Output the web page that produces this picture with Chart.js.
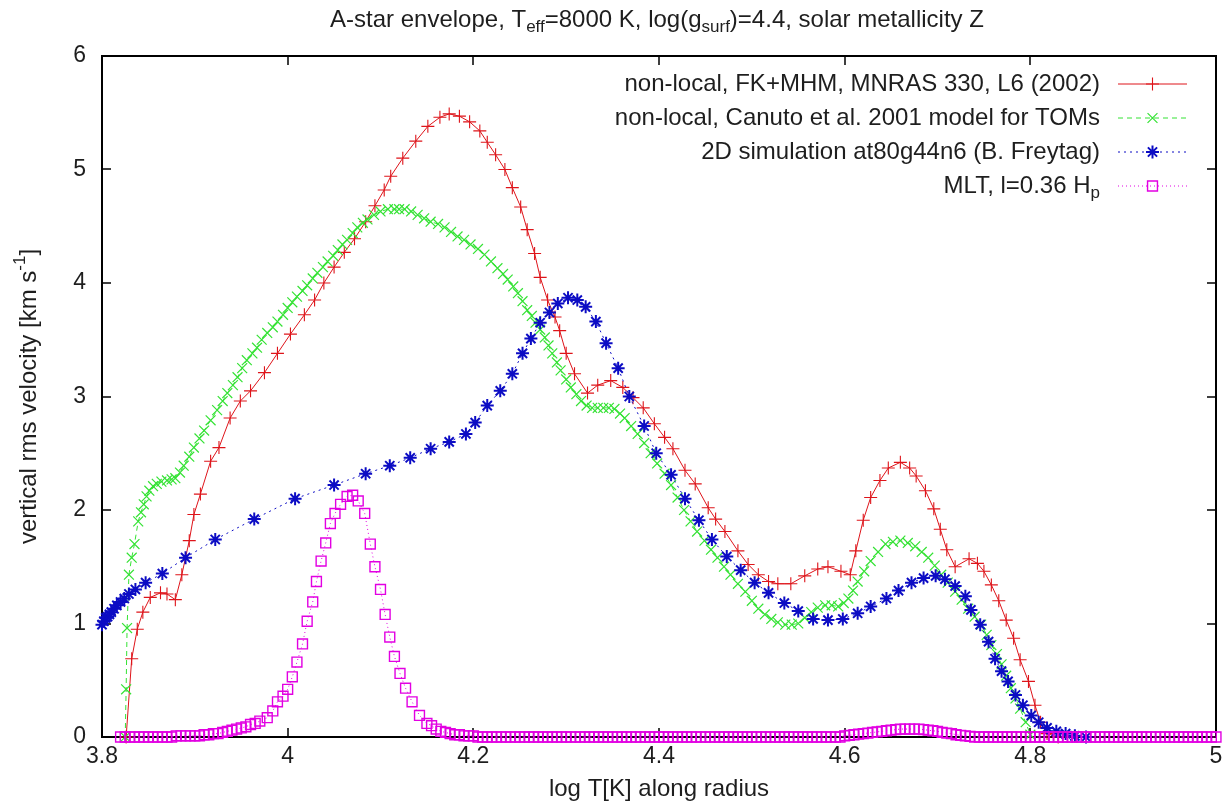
<!DOCTYPE html>
<html>
<head>
<meta charset="utf-8">
<title>A-star envelope velocities</title>
<script src="https://cdn.jsdelivr.net/npm/chart.js@4.4.1/dist/chart.umd.min.js"></script>
<style>
  html, body { margin: 0; padding: 0; background: #fff; }
  #wrap { position: relative; width: 1232px; height: 807px; }
</style>
</head>
<body>
<div id="wrap"><canvas id="velChart" width="1232" height="807"></canvas></div>
<script>
// axis ticks
const xTicks = [3.8, 4, 4.2, 4.4, 4.6, 4.8, 5];
const yTicks = [0, 1, 2, 3, 4, 5, 6];

// labels, _{..} is a subscript, ^{..} a superscript
const titleText = 'A-star envelope, T_{eff}=8000 K, log(g_{surf})=4.4, solar metallicity Z';
const xTitle = 'log T[K] along radius';
const yTitle = 'vertical rms velocity [km s^{-1}]';
const seriesNames = [
  'non-local, FK+MHM, MNRAS 330, L6 (2002)',
  'non-local, Canuto et al. 2001 model for TOMs',
  '2D simulation at80g44n6 (B. Freytag)',
  'MLT, l=0.36 H_{p}'
];

// non-local model FK+MHM
const fkT = [3.826, 3.832, 3.838, 3.844, 3.852, 3.863, 3.870, 3.879, 3.886, 3.894, 3.899, 3.906, 3.917, 3.926,
  3.938, 3.949, 3.960, 3.975, 3.989, 4.003, 4.018, 4.029, 4.039, 4.050, 4.061, 4.072, 4.084, 4.094, 4.104,
  4.111, 4.124, 4.138, 4.151, 4.164, 4.174, 4.185, 4.196, 4.207, 4.215, 4.224, 4.234, 4.242, 4.251, 4.258,
  4.266, 4.272, 4.280, 4.288, 4.293, 4.300, 4.309, 4.323, 4.334, 4.348, 4.361, 4.372, 4.383, 4.395, 4.406,
  4.415, 4.428, 4.439, 4.453, 4.461, 4.471, 4.485, 4.496, 4.507, 4.518, 4.528, 4.542, 4.557, 4.571, 4.582,
  4.596, 4.606, 4.612, 4.620, 4.628, 4.638, 4.647, 4.660, 4.670, 4.677, 4.687, 4.696, 4.703, 4.710, 4.719,
  4.734, 4.743, 4.750, 4.758, 4.766, 4.774, 4.782, 4.789, 4.798, 4.805, 4.811, 4.818, 4.830];
const fkV = [0.00, 0.69, 0.95, 1.10, 1.23, 1.27, 1.26, 1.21, 1.43, 1.73, 1.96, 2.14, 2.43, 2.55,
  2.81, 2.96, 3.05, 3.21, 3.38, 3.55, 3.72, 3.85, 4.00, 4.14, 4.27, 4.39, 4.54, 4.68, 4.82,
  4.94, 5.10, 5.25, 5.38, 5.46, 5.49, 5.47, 5.42, 5.34, 5.24, 5.13, 5.00, 4.84, 4.67, 4.47,
  4.26, 4.05, 3.85, 3.70, 3.58, 3.38, 3.20, 3.03, 3.10, 3.14, 3.08, 2.99, 2.90, 2.76, 2.64,
  2.54, 2.35, 2.23, 2.02, 1.92, 1.81, 1.64, 1.52, 1.43, 1.37, 1.35, 1.35, 1.42, 1.48, 1.50,
  1.46, 1.43, 1.64, 1.91, 2.11, 2.26, 2.37, 2.42, 2.37, 2.30, 2.17, 2.01, 1.83, 1.65, 1.50,
  1.57, 1.53, 1.46, 1.34, 1.20, 1.03, 0.87, 0.68, 0.49, 0.28, 0.13, 0.03, 0.00];

// non-local model, Canuto et al. 2001
const tomT = [3.825, 3.826, 3.827, 3.829, 3.832, 3.835, 3.839, 3.842, 3.845, 3.848, 3.851, 3.855, 3.859,
  3.864, 3.870, 3.875, 3.879, 3.884, 3.888, 3.894, 3.899, 3.905, 3.910, 3.917, 3.924, 3.930, 3.935, 3.941,
  3.946, 3.951, 3.956, 3.962, 3.967, 3.972, 3.978, 3.984, 3.989, 3.995, 4.000, 4.005, 4.010, 4.016, 4.021,
  4.027, 4.032, 4.038, 4.043, 4.049, 4.054, 4.059, 4.064, 4.070, 4.075, 4.081, 4.086, 4.093, 4.100, 4.108,
  4.115, 4.120, 4.126, 4.133, 4.140, 4.147, 4.154, 4.162, 4.169, 4.176, 4.183, 4.190, 4.197, 4.205, 4.212,
  4.219, 4.226, 4.232, 4.237, 4.243, 4.248, 4.253, 4.258, 4.263, 4.267, 4.272, 4.277, 4.281, 4.285, 4.290,
  4.294, 4.300, 4.305, 4.311, 4.316, 4.322, 4.328, 4.334, 4.340, 4.346, 4.352, 4.358, 4.363, 4.370, 4.377,
  4.384, 4.391, 4.398, 4.406, 4.413, 4.420, 4.427, 4.434, 4.441, 4.449, 4.456, 4.463, 4.470, 4.477, 4.485,
  4.493, 4.500, 4.507, 4.514, 4.521, 4.528, 4.536, 4.543, 4.550, 4.557, 4.564, 4.571, 4.579, 4.586, 4.593,
  4.599, 4.604, 4.609, 4.614, 4.621, 4.628, 4.636, 4.644, 4.652, 4.660, 4.668, 4.676, 4.683, 4.690, 4.697,
  4.704, 4.711, 4.719, 4.726, 4.733, 4.740, 4.747, 4.753, 4.758, 4.764, 4.769, 4.774, 4.779, 4.784, 4.789,
  4.795, 4.800];
const tomV = [0.00, 0.42, 0.96, 1.43, 1.58, 1.70, 1.90, 1.98, 2.05, 2.12, 2.17, 2.21, 2.23,
  2.25, 2.26, 2.27, 2.28, 2.33, 2.39, 2.47, 2.55, 2.63, 2.70, 2.79, 2.88, 2.96, 3.03, 3.10,
  3.17, 3.25, 3.32, 3.38, 3.43, 3.50, 3.56, 3.61, 3.66, 3.72, 3.78, 3.83, 3.88, 3.93, 3.98,
  4.04, 4.09, 4.14, 4.19, 4.24, 4.29, 4.34, 4.38, 4.44, 4.49, 4.53, 4.56, 4.60, 4.63, 4.65,
  4.65, 4.65, 4.65, 4.63, 4.60, 4.57, 4.54, 4.52, 4.49, 4.45, 4.41, 4.38, 4.34, 4.30, 4.25,
  4.19, 4.13, 4.08, 4.03, 3.97, 3.91, 3.84, 3.76, 3.71, 3.65, 3.59, 3.52, 3.45, 3.38, 3.30,
  3.23, 3.15, 3.08, 3.02, 2.96, 2.92, 2.90, 2.90, 2.90, 2.90, 2.89, 2.85, 2.81, 2.74, 2.67,
  2.59, 2.50, 2.41, 2.32, 2.22, 2.11, 2.00, 1.90, 1.81, 1.73, 1.65, 1.58, 1.50, 1.43, 1.35,
  1.28, 1.20, 1.13, 1.08, 1.04, 1.01, 0.99, 0.99, 1.00, 1.05, 1.10, 1.14, 1.16, 1.16, 1.15,
  1.18, 1.22, 1.29, 1.37, 1.46, 1.55, 1.63, 1.70, 1.72, 1.73, 1.71, 1.68, 1.63, 1.58, 1.51,
  1.43, 1.36, 1.28, 1.21, 1.13, 1.06, 0.99, 0.90, 0.81, 0.73, 0.64, 0.54, 0.43, 0.34, 0.25,
  0.13, 0.02];

// 2D simulation at80g44n6
const simT = [3.800, 3.802, 3.804, 3.806, 3.808, 3.810, 3.813, 3.816, 3.820, 3.824, 3.829, 3.836, 3.847,
  3.865, 3.890, 3.922, 3.964, 4.008, 4.050, 4.084, 4.110, 4.132, 4.154, 4.174, 4.192, 4.202, 4.215, 4.229,
  4.242, 4.253, 4.262, 4.272, 4.282, 4.291, 4.302, 4.312, 4.321, 4.332, 4.343, 4.356, 4.368, 4.384, 4.397,
  4.413, 4.428, 4.443, 4.457, 4.473, 4.488, 4.503, 4.518, 4.535, 4.550, 4.566, 4.582, 4.598, 4.614, 4.628,
  4.645, 4.658, 4.672, 4.685, 4.698, 4.708, 4.719, 4.730, 4.736, 4.746, 4.755, 4.762, 4.769, 4.776, 4.784,
  4.792, 4.801, 4.809, 4.818, 4.828, 4.838, 4.848, 4.860];
const simV = [0.99, 1.02, 1.05, 1.06, 1.08, 1.10, 1.13, 1.16, 1.19, 1.22, 1.26, 1.30, 1.36,
  1.44, 1.58, 1.74, 1.92, 2.10, 2.22, 2.32, 2.39, 2.46, 2.54, 2.60, 2.67, 2.77, 2.92, 3.05,
  3.20, 3.38, 3.51, 3.65, 3.74, 3.82, 3.87, 3.85, 3.79, 3.66, 3.47, 3.25, 3.00, 2.74, 2.50,
  2.31, 2.10, 1.91, 1.74, 1.59, 1.47, 1.36, 1.27, 1.18, 1.11, 1.04, 1.03, 1.04, 1.09, 1.15,
  1.22, 1.29, 1.36, 1.40, 1.42, 1.39, 1.33, 1.24, 1.12, 0.99, 0.84, 0.69, 0.58, 0.49, 0.37,
  0.28, 0.19, 0.13, 0.08, 0.05, 0.03, 0.01, 0.00];

// mixing length theory
const mltT = [3.820, 3.825, 3.830, 3.835, 3.840, 3.845, 3.850, 3.855, 3.860, 3.865, 3.870, 3.875,
  3.880, 3.885, 3.890, 3.895, 3.900, 3.905, 3.910, 3.915, 3.920, 3.925, 3.930, 3.935, 3.940, 3.945,
  3.950, 3.955, 3.960, 3.965, 3.970,
  3.978, 3.984, 3.989, 3.995, 4.000, 4.005, 4.010, 4.016, 4.021, 4.027, 4.031, 4.036, 4.041, 4.046,
  4.051, 4.057, 4.064, 4.070, 4.076, 4.083, 4.089, 4.094, 4.100, 4.105, 4.110, 4.115, 4.121, 4.127,
  4.134, 4.142, 4.150,
  4.155, 4.160, 4.165, 4.170, 4.175, 4.180, 4.185, 4.190, 4.195, 4.200,
  4.205, 4.210, 4.215, 4.220, 4.225, 4.230, 4.235, 4.240, 4.245, 4.250, 4.255, 4.260, 4.265, 4.270,
  4.275, 4.280, 4.285, 4.290, 4.295, 4.300, 4.305, 4.310, 4.315, 4.320, 4.325, 4.330, 4.335, 4.340,
  4.345, 4.350, 4.355, 4.360, 4.365, 4.370, 4.375, 4.380, 4.385, 4.390, 4.395, 4.400, 4.405, 4.410,
  4.415, 4.420, 4.425, 4.430, 4.435, 4.440, 4.445, 4.450, 4.455, 4.460, 4.465, 4.470, 4.475, 4.480,
  4.485, 4.490, 4.495, 4.500, 4.505, 4.510, 4.515, 4.520, 4.525, 4.530, 4.535, 4.540, 4.545, 4.550,
  4.555, 4.560, 4.565, 4.570, 4.575, 4.580, 4.585, 4.590, 4.595,
  4.600, 4.605, 4.610, 4.615, 4.620, 4.625, 4.630, 4.635, 4.640, 4.645, 4.650, 4.655, 4.660, 4.665,
  4.670, 4.675, 4.680, 4.685, 4.690, 4.695, 4.700, 4.705, 4.710, 4.715, 4.720, 4.725, 4.730, 4.735,
  4.740, 4.745, 4.750, 4.755, 4.760, 4.765, 4.770, 4.775, 4.780, 4.785, 4.790, 4.795, 4.800, 4.805,
  4.810, 4.815, 4.820, 4.825, 4.830, 4.835, 4.840, 4.845, 4.850, 4.855, 4.860, 4.865, 4.870, 4.875,
  4.880, 4.885, 4.890, 4.895, 4.900, 4.905, 4.910, 4.915, 4.920, 4.925, 4.930, 4.935, 4.940, 4.945,
  4.950, 4.955, 4.960, 4.965, 4.970, 4.975, 4.980, 4.985, 4.990, 4.995, 5.000];
const mltV = [0, 0, 0, 0, 0, 0, 0, 0, 0, 0, 0, 0,
  0.01, 0.01, 0.01, 0.01, 0.01, 0.01, 0.02, 0.02, 0.03, 0.03, 0.04, 0.05, 0.06, 0.07,
  0.08, 0.09, 0.11, 0.12, 0.14,
  0.17, 0.23, 0.31, 0.36, 0.42, 0.53, 0.66, 0.82, 1.02, 1.19, 1.37, 1.55, 1.71, 1.88,
  1.97, 2.05, 2.12, 2.13, 2.08, 1.97, 1.70, 1.50, 1.30, 1.08, 0.88, 0.71, 0.56, 0.43,
  0.31, 0.19, 0.12,
  0.10, 0.07, 0.05, 0.04, 0.03, 0.02, 0.02, 0.01, 0.01, 0.01,
  0, 0, 0, 0, 0, 0, 0, 0, 0, 0, 0, 0, 0, 0,
  0, 0, 0, 0, 0, 0, 0, 0, 0, 0, 0, 0, 0, 0,
  0, 0, 0, 0, 0, 0, 0, 0, 0, 0, 0, 0, 0, 0,
  0, 0, 0, 0, 0, 0, 0, 0, 0, 0, 0, 0, 0, 0,
  0, 0, 0, 0, 0, 0, 0, 0, 0, 0, 0, 0, 0, 0,
  0, 0, 0, 0, 0, 0, 0, 0, 0,
  0.010, 0.015, 0.020, 0.025, 0.030, 0.035, 0.040, 0.045, 0.050, 0.055, 0.060, 0.065, 0.070, 0.070,
  0.070, 0.070, 0.070, 0.065, 0.060, 0.055, 0.050, 0.040, 0.035, 0.030, 0.020, 0.015, 0.010, 0.005,
  0, 0, 0, 0, 0, 0, 0, 0, 0, 0, 0, 0, 0, 0,
  0, 0, 0, 0, 0, 0, 0, 0, 0, 0, 0, 0, 0, 0,
  0, 0, 0, 0, 0, 0, 0, 0, 0, 0, 0, 0, 0, 0,
  0, 0, 0, 0, 0, 0, 0, 0, 0, 0, 0];

const FONT = '"Liberation Sans", Arial, Helvetica, sans-serif';

const pts = (xs, ys) => xs.map((x, i) => ({ x: x, y: ys[i] }));

// split "a_{b}c^{d}" into runs with a baseline shift
function richParts(str) {
  const parts = [];
  const re = /([_^])\{([^}]*)\}/g;
  let last = 0, m;
  while ((m = re.exec(str))) {
    if (m.index > last) parts.push({ t: str.slice(last, m.index), s: 0 });
    parts.push({ t: m[2], s: m[1] === '_' ? 1 : -1 });
    last = re.lastIndex;
  }
  if (last < str.length) parts.push({ t: str.slice(last), s: 0 });
  return parts;
}

function drawRich(ctx, str, x, y, size, align) {
  const parts = richParts(str);
  const fontFor = p => (p.s ? Math.round(size * 0.72) : size) + 'px ' + FONT;
  let w = 0;
  parts.forEach(p => { ctx.font = fontFor(p); p.w = ctx.measureText(p.t).width; w += p.w; });
  let cx = align === 'right' ? x - w : (align === 'center' ? x - w / 2 : x);
  ctx.textAlign = 'left';
  ctx.textBaseline = 'middle';
  parts.forEach(p => {
    ctx.font = fontFor(p);
    const dy = p.s > 0 ? size * 0.32 : (p.s < 0 ? -size * 0.38 : 0);
    ctx.fillText(p.t, cx, y + dy);
    cx += p.w;
  });
}

// gnuplot style border with inward ticks on all four sides
const framePlugin = {
  id: 'frame',
  beforeDatasetsDraw(chart) {
    const { ctx, chartArea: a, scales: { x, y } } = chart;
    const len = 9;
    ctx.save();
    ctx.strokeStyle = '#000';
    ctx.lineWidth = 2;
    ctx.strokeRect(a.left, a.top, a.right - a.left, a.bottom - a.top);
    ctx.lineWidth = 1.5;
    ctx.beginPath();
    xTicks.forEach(v => {
      const px = Math.round(x.getPixelForValue(v));
      ctx.moveTo(px, a.bottom); ctx.lineTo(px, a.bottom - len);
      ctx.moveTo(px, a.top); ctx.lineTo(px, a.top + len);
    });
    yTicks.forEach(v => {
      const py = Math.round(y.getPixelForValue(v));
      ctx.moveTo(a.left, py); ctx.lineTo(a.left + len, py);
      ctx.moveTo(a.right, py); ctx.lineTo(a.right - len, py);
    });
    ctx.stroke();
    ctx.restore();
  }
};

// title, axis titles and the key in the upper right corner
const textPlugin = {
  id: 'texts',
  afterDraw(chart) {
    const { ctx, chartArea: a } = chart;
    const mid = (a.left + a.right) / 2;
    ctx.save();
    ctx.fillStyle = '#1e1e1e';
    drawRich(ctx, titleText, mid - 2, 20, 24, 'center');
    drawRich(ctx, xTitle, mid, 789, 24, 'center');
    ctx.translate(29, (a.top + a.bottom) / 2);
    ctx.rotate(-Math.PI / 2);
    drawRich(ctx, yTitle, 0, 0, 24, 'center');
    ctx.restore();

    const textRight = a.right - 116;
    const s0 = a.right - 98, s1 = a.right - 29;
    chart.data.datasets.forEach((ds, i) => {
      const ry = a.top + 28 + i * 34;
      ctx.save();
      ctx.fillStyle = '#1e1e1e';
      drawRich(ctx, seriesNames[i], textRight, ry, 24, 'right');
      ctx.strokeStyle = ds.borderColor;
      ctx.lineWidth = ds.borderWidth;
      ctx.setLineDash(ds.borderDash || []);
      ctx.beginPath();
      ctx.moveTo(s0, ry); ctx.lineTo(s1, ry);
      ctx.stroke();
      ctx.setLineDash([]);
      ctx.strokeStyle = ds.pointBorderColor;
      ctx.lineWidth = ds.pointBorderWidth;
      ctx.fillStyle = 'rgba(0,0,0,0)';
      Chart.helpers.drawPoint(ctx, {
        pointStyle: ds.pointStyle, radius: ds.pointRadius, rotation: 0, borderWidth: ds.pointBorderWidth
      }, (s0 + s1) / 2, ry);
      ctx.restore();
    });
  }
};

const series = (label, xs, ys, color, opts) => Object.assign({
  label: label,
  data: pts(xs, ys),
  showLine: true,
  borderColor: color,
  pointBorderColor: color,
  backgroundColor: 'rgba(0,0,0,0)',
  pointBackgroundColor: 'rgba(0,0,0,0)',
  borderWidth: 1,
  pointBorderWidth: 1,
  tension: 0,
  clip: false
}, opts);

const tickLabel = v => String(Math.round(v * 10) / 10);

const ctx = document.getElementById('velChart').getContext('2d');
const chart = new Chart(ctx, {
  type: 'scatter',
  data: {
    datasets: [
      series(seriesNames[0], fkT, fkV, 'rgb(222,20,26)', { pointStyle: 'cross', pointRadius: 6.5, pointBorderWidth: 1.1, order: 4 }),
      series(seriesNames[1], tomT, tomV, 'rgb(52,226,52)', { pointStyle: 'crossRot', pointRadius: 7, pointBorderWidth: 1.2, borderDash: [5, 4], order: 3 }),
      series(seriesNames[2], simT, simV, 'rgb(12,12,196)', { pointStyle: 'star', pointRadius: 6.5, pointBorderWidth: 2, borderDash: [2, 4], order: 2 }),
      series(seriesNames[3], mltT, mltV, 'rgb(226,0,226)', { pointStyle: 'rect', pointRadius: 7, pointBorderWidth: 1.4, borderDash: [1, 3], order: 1 })
    ]
  },
  options: {
    responsive: false,
    animation: false,
    events: [],
    layout: { padding: { top: 56, right: 16, left: 0, bottom: 0 } },
    plugins: {
      legend: { display: false },
      tooltip: { enabled: false },
      title: { display: false }
    },
    scales: {
      x: {
        type: 'linear',
        min: 3.8,
        max: 5,
        afterBuildTicks: s => { s.ticks = xTicks.map(v => ({ value: v })); },
        afterFit: s => { s.height = 70; },
        grid: { display: false, drawTicks: false },
        border: { display: false },
        ticks: { color: '#1e1e1e', font: { family: FONT, size: 23 }, padding: 6, maxRotation: 0, callback: tickLabel }
      },
      y: {
        type: 'linear',
        min: 0,
        max: 6,
        afterBuildTicks: s => { s.ticks = yTicks.map(v => ({ value: v })); },
        afterFit: s => { s.width = 102; },
        grid: { display: false, drawTicks: false },
        border: { display: false },
        ticks: { color: '#1e1e1e', font: { family: FONT, size: 23 }, padding: 16, callback: tickLabel }
      }
    }
  },
  plugins: [framePlugin, textPlugin]
});
</script>
</body>
</html>
